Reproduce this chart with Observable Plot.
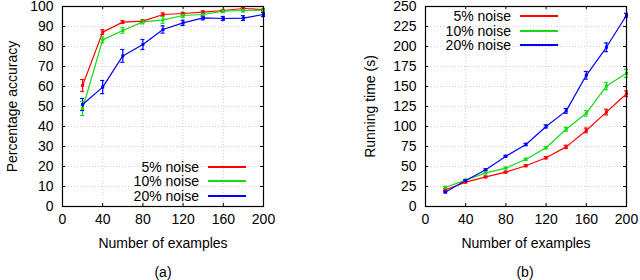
<!DOCTYPE html>
<html><head><meta charset="utf-8">
<script src="https://cdn.jsdelivr.net/npm/d3@7"></script>
<script src="https://cdn.jsdelivr.net/npm/@observablehq/plot@0.6"></script>
<style>
body{margin:0;background:#fff;}
#wrap{position:relative;width:640px;height:280px;font-family:"Liberation Sans",Arial,sans-serif;color:#000;}
#wrap svg{position:absolute;top:0;background:transparent;}
.lab{position:absolute;font-size:14px;white-space:nowrap;line-height:12px;}
.key{position:absolute;height:1.2px;}
</style></head><body><div id="wrap"></div>
<script>
const examples=[20,40,60,80,100,120,140,160,180,200];
const seriesNames=["5% noise","10% noise","20% noise"];
const seriesColors=["#ff0000","#11dd11","#0000ff"];
const accuracy5=[60.5,87.2,92.2,92.7,96,96.5,97.2,98,99,98.5];
const accuracy10=[49,83.3,88,92.3,93.3,95.5,96,97.7,98,98.2];
const accuracy20=[51,59.7,75.3,81,88.5,91.8,94.3,94,94.2,96];
const accErr5=[3,1.2,0.7,0.6,0.8,0.6,0.6,0.5,0.5,0.5];
const accErr10=[3.5,1.5,1.4,1,1.7,1,1,0.8,0.8,0.8];
const accErr20=[3,3.3,3.2,2.5,1.8,1.3,1,1,1.2,1];
const time5=[21,30.5,37,43,51,61,74.5,95,118,141];
const time10=[24,33,42,48,59,73.5,96.5,116.5,150.5,166.5];
const time20=[18,32.5,46,62.9,77.5,100,119.5,164,199,239];
const timeErr5=[1,1,1,1,1.2,1.5,2,3,3.5,3.5];
const timeErr10=[1,1,1,1,1.2,1.5,2.5,3.5,4.5,5];
const timeErr20=[1,1,1,1,1.5,2,3,4.8,5.4,2.5];
const xTicks=[0,40,80,120,160,200];
const accTicks=[0,10,20,30,40,50,60,70,80,90,100];
const timeTicks=[0,25,50,75,100,125,150,175,200,225,250];
const captions=["(a)","(b)"];
const xTitle="Number of examples";
const yTitles=["Percentage accuracy","Running time (s)"];

function rows(vals, errs){
  const out=[];
  vals.forEach((v,si)=>examples.forEach((x,i)=>out.push({x,y:v[i],e:errs[si][i],s:seriesNames[si]})));
  return out;
}
const accData=rows([accuracy5,accuracy10,accuracy20],[accErr5,accErr10,accErr20]);
const timeData=rows([time5,time10,time20],[timeErr5,timeErr10,timeErr20]);

const H=280, MT=6, MB=74, FH=H-MT-MB, TL=3;
function panel(data, yDomain, yTicks, ml, mr, yTitle, ylabelOffset){
  const FW=320-ml-mr;
  const grid={stroke:"#999",strokeOpacity:0.8,strokeDasharray:"1,2",strokeWidth:0.6};
  return Plot.plot({
    width:320,height:H,marginLeft:ml,marginRight:mr,marginTop:MT,marginBottom:MB,
    style:{fontFamily:'"Liberation Sans",Arial,sans-serif',fontSize:"14px",color:"#000",background:"transparent",overflow:"visible"},
    x:{domain:[0,200]},
    y:{domain:yDomain},
    color:{domain:seriesNames,range:seriesColors},
    marks:[
      Plot.gridX(xTicks.slice(1,-1),grid),
      Plot.gridY(yTicks.slice(1,-1),grid),
      Plot.ruleX(xTicks,{x:d=>d,insetTop:FH-TL,stroke:"#000"}),
      Plot.ruleX(xTicks,{x:d=>d,insetBottom:FH-TL,stroke:"#000"}),
      Plot.ruleY(yTicks,{y:d=>d,insetRight:FW-TL,stroke:"#000"}),
      Plot.ruleY(yTicks,{y:d=>d,insetLeft:FW-TL,stroke:"#000"}),
      Plot.axisX(xTicks,{tickSize:0,tickPadding:8,fontSize:14,label:xTitle,labelAnchor:"center",labelArrow:"none",labelOffset:41}),
      Plot.axisY(yTicks,{tickSize:0,tickPadding:9,fontSize:14,label:yTitle,labelAnchor:"center",labelArrow:"none",labelOffset:ylabelOffset}),
      Plot.line(data,{x:"x",y:"y",z:"s",stroke:"s",strokeWidth:1.2}),
      Plot.ruleX(data,{x:"x",y1:d=>d.y-d.e,y2:d=>d.y+d.e,stroke:"s",strokeWidth:1.2}),
      Plot.ruleY(data,{y:d=>d.y-d.e,x1:d=>d.x-2,x2:d=>d.x+2,stroke:"s",strokeWidth:1.2}),
      Plot.ruleY(data,{y:d=>d.y+d.e,x1:d=>d.x-2,x2:d=>d.x+2,stroke:"s",strokeWidth:1.2}),
      Plot.dot(data,{x:"x",y:"y",fill:"s",symbol:"square",r:1.7}),
      Plot.frame({stroke:"#000",strokeWidth:1.2})
    ]
  });
}
const wrap=document.getElementById("wrap");
const p1=panel(accData,[0,100],accTicks,62,57,yTitles[0],55);
p1.style.left="0px";
const p2=panel(timeData,[0,250],timeTicks,105,14,yTitles[1],60);
p2.style.left="320px";
wrap.appendChild(p1);wrap.appendChild(p2);

function legend(textRight, lineX, rowYs){
  seriesNames.forEach((n,i)=>{
    const t=document.createElement("div");
    t.className="lab";t.textContent=n;
    t.style.right=(640-textRight)+"px";t.style.top=(rowYs[i]-6)+"px";
    wrap.appendChild(t);
    const k=document.createElement("div");
    k.className="key";
    k.style.left=lineX+"px";k.style.width="38px";k.style.top=(rowYs[i]-0.6)+"px";
    k.style.background=seriesColors[i];
    wrap.appendChild(k);
  });
}
legend(199,208,[167,181,196]);
legend(511,520,[16,31,45]);
[163,525].forEach((cx,i)=>{
  const c=document.createElement("div");
  c.className="lab";c.textContent=captions[i];
  c.style.left=(cx-40)+"px";c.style.width="80px";c.style.textAlign="center";c.style.top=(272-6)+"px";
  wrap.appendChild(c);
});
</script></body></html>
